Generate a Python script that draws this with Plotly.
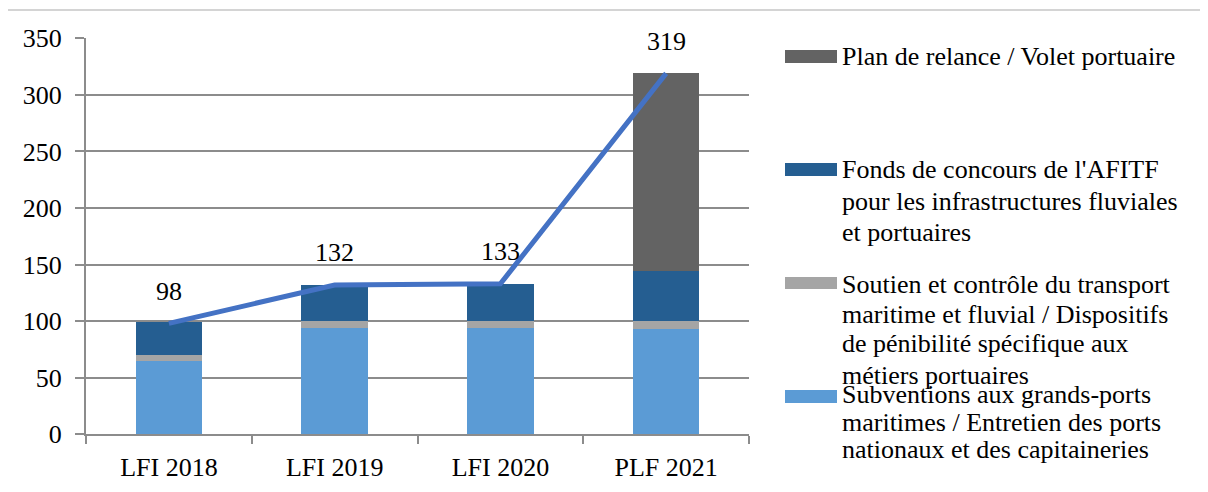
import plotly.graph_objects as go

# ---- data ----
categories = ["LFI 2018", "LFI 2019", "LFI 2020", "PLF 2021"]
subventions = [65, 94, 94, 93]
soutien = [5, 6, 6, 7]
fonds_afitf = [29, 32, 33, 44]
plan_relance = [0, 0, 0, 175]
totals = [98, 132, 133, 319]
total_labels = ["98", "132", "133", "319"]
y_ticks = [0, 50, 100, 150, 200, 250, 300, 350]

series_names = [
    "Subventions aux grands-ports maritimes / Entretien des ports nationaux et des capitaineries",
    "Soutien et contrôle du transport maritime et fluvial / Dispositifs de pénibilité spécifique aux métiers portuaires",
    "Fonds de concours de l'AFITF pour les infrastructures fluviales et portuaires",
    "Plan de relance / Volet portuaire",
]
legend_lines = [
    ["Plan de relance / Volet portuaire"],
    ["Fonds de concours de l'AFITF", "pour les infrastructures fluviales", "et portuaires"],
    ["Soutien et contrôle du transport", "maritime et fluvial / Dispositifs",
     "de pénibilité spécifique aux", "métiers portuaires"],
    ["Subventions aux grands-ports", "maritimes / Entretien des ports",
     "nationaux et des capitaineries"],
]

# ---- style ----
OFF = 8  # page body margin
W, H = 1208 - OFF, 492 - OFF
FONT = "Liberation Serif, Times New Roman, serif"
FS = 26
c_light = "#5B9BD5"
c_grey = "#A5A5A5"
c_dark = "#255E91"
c_plan = "#636363"
c_line = "#4472C4"
grid_c = "#8c8c8c"


def px_x(p):
    return (p - OFF) / W


def px_y(p):
    return (H - (p - OFF)) / H


fig = go.Figure()
for vals, name, col in [
    (subventions, series_names[0], c_light),
    (soutien, series_names[1], c_grey),
    (fonds_afitf, series_names[2], c_dark),
    (plan_relance, series_names[3], c_plan),
]:
    fig.add_trace(go.Bar(x=categories, y=vals, name=name, marker=dict(color=col, line=dict(width=0)),
                         width=0.4, showlegend=False))

fig.add_trace(go.Scatter(x=categories, y=totals, mode="lines", line=dict(color=c_line, width=5),
                         showlegend=False, name="Total"))

annotations = []
for c, v, t in zip(categories, totals, total_labels):
    annotations.append(dict(x=c, y=v, xref="x", yref="y", text=t, showarrow=False, yshift=32,
                            font=dict(family=FONT, size=FS, color="#000")))

# legend drawn as swatches + text lines
legend_colors = [c_plan, c_dark, c_grey, c_light]
swatch_y = [(50, 63), (163, 176), (277, 289), (390, 403)]
baselines = [[65], [178, 210, 241], [293, 323, 352, 384], [403, 431, 458]]
shapes = []
for col, (y0, y1) in zip(legend_colors, swatch_y):
    shapes.append(dict(type="rect", xref="paper", yref="paper", x0=px_x(785), x1=px_x(837),
                       y0=px_y(y1), y1=px_y(y0), fillcolor=col, line=dict(width=0)))
for lines, bls in zip(legend_lines, baselines):
    for txt, bl in zip(lines, bls):
        annotations.append(dict(x=px_x(840), y=px_y(bl - 8.8), xref="paper", yref="paper",
                                xanchor="left", yanchor="middle", text=txt, showarrow=False,
                                font=dict(family=FONT, size=FS, color="#000")))

# outer frame
shapes.append(dict(type="rect", xref="paper", yref="paper", x0=px_x(7), x1=px_x(1201),
                   y0=px_y(500), y1=px_y(10), line=dict(color="#d4d4d4", width=2), fillcolor="rgba(0,0,0,0)",
                   layer="below"))

fig.update_layout(
    width=W, height=H,
    margin=dict(l=0, r=0, t=0, b=0),
    paper_bgcolor="white", plot_bgcolor="white",
    barmode="stack",
    font=dict(family=FONT, size=FS, color="#000"),
    annotations=annotations,
    shapes=shapes,
    showlegend=False,
    xaxis=dict(domain=[px_x(86), px_x(749)], type="category", tickson="boundaries",
               ticks="outside", ticklen=8, tickwidth=2, tickcolor=grid_c,
               showline=True, linecolor=grid_c, linewidth=2, showgrid=False,
               tickfont=dict(family=FONT, size=FS, color="#000"), ticklabelstandoff=8,
               automargin=False, fixedrange=True),
    yaxis=dict(domain=[px_y(434.3), px_y(38.3)], range=[0, 350], tickvals=y_ticks,
               ticks="outside", ticklen=9, tickwidth=2, tickcolor=grid_c,
               showline=True, linecolor=grid_c, linewidth=2,
               showgrid=True, gridcolor=grid_c, gridwidth=2, zeroline=False,
               tickfont=dict(family=FONT, size=FS, color="#000"), ticklabelstandoff=8,
               automargin=False, fixedrange=True),
)

fig.write_html("out.html")
